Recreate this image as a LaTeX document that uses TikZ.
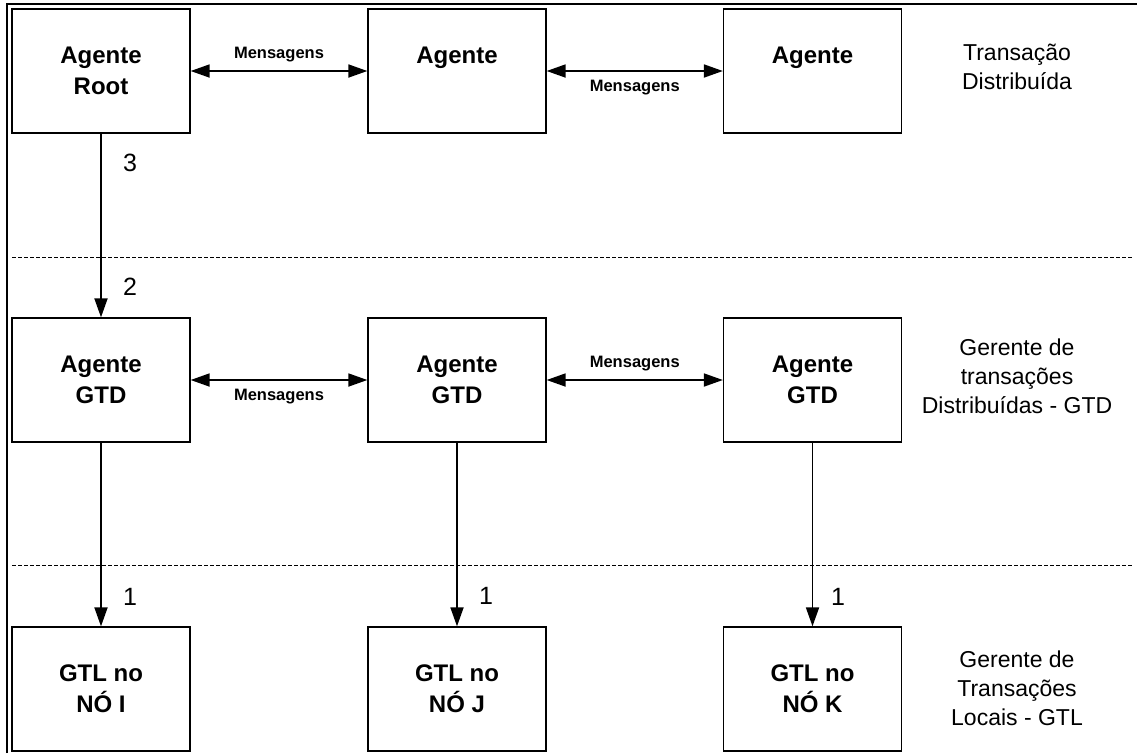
\documentclass[tikz,border=0pt]{standalone}
\usepackage{fontspec}
\setmainfont{Liberation Sans}
\usetikzlibrary{arrows.meta}
\begin{document}
\begin{tikzpicture}[x=1pt,y=-1pt,
  box/.style={draw,line width=1.3pt,minimum width=178pt,minimum height=124pt,inner sep=0pt,align=center,
    font=\bfseries\fontsize{24}{31}\selectfont},
  msg/.style={font=\bfseries\fontsize{16.5}{19}\selectfont,inner sep=0pt},
  lvl/.style={align=center,font=\fontsize{23}{29}\selectfont,inner sep=0pt},
  num/.style={font=\fontsize{25}{28}\selectfont,inner sep=0pt},
  arr/.style={line width=1.8pt,-{Triangle[length=19pt,width=13pt]}},
  darr/.style={line width=1.8pt,{Triangle[length=19pt,width=13pt]}-{Triangle[length=19pt,width=13pt]}},
  sep/.style={line width=1pt,dash pattern=on 4pt off 2pt},
  frame/.style={line width=2.5pt}]
\useasboundingbox (0,0) rectangle (1137,753);
% frame
\draw[frame] (7,753) -- (7,4) -- (1137,4);
% separators
\draw[sep] (12,257) -- (1132,257);
\draw[sep] (12,565) -- (1132,565);
% row 1
\node[box] (root) at (101,71) {Agente\\Root};
\node[box] (a2) at (457,71) {Agente\\\phantom{Root}};
\node[box] (a3) at (812.5,71) {Agente\\\phantom{Root}};
% row 2
\node[box] (g1) at (101,380) {Agente\\GTD};
\node[box] (g2) at (457,380) {Agente\\GTD};
\node[box] (g3) at (812.5,380) {Agente\\GTD};
% row 3
\node[box] (l1) at (101,689) {GTL no\\NÓ I};
\node[box] (l2) at (457,689) {GTL no\\NÓ J};
\node[box] (l3) at (812.5,689) {GTL no\\NÓ K};
% level labels
\node[lvl] (t1) at (1017,67) {Transação\\Distribuída};
\node[lvl] (t2) at (1017,376) {Gerente de\\transações\\Distribuídas - GTD};
\node[lvl] (t3) at (1017,688) {Gerente de\\Transações\\Locais - GTL};
% messages
\draw[darr] (root.east) -- node[msg,above=8pt] (m1) {Mensagens} (a2.west);
\draw[darr] (a2.east) -- node[msg,below=8pt] (m2) {Mensagens} (a3.west);
\draw[darr] (g1.east) -- node[msg,below=8pt] (m3) {Mensagens} (g2.west);
\draw[darr] (g2.east) -- node[msg,above=8pt] (m4) {Mensagens} (g3.west);
% vertical arrows
\draw[arr] (root.south) -- (g1.north);
\draw[arr] (g1.south) -- (l1.north);
\draw[arr] (g2.south) -- (l2.north);
\draw[arr] (g3.south) -- (l3.north);
% numbers
\node[num] (n3) at (130,163) {3};
\node[num] (n2) at (130,287) {2};
\node[num] (n1a) at (130,597) {1};
\node[num] (n1b) at (486,596) {1};
\node[num] (n1c) at (838,597) {1};
\end{tikzpicture}
\end{document}
